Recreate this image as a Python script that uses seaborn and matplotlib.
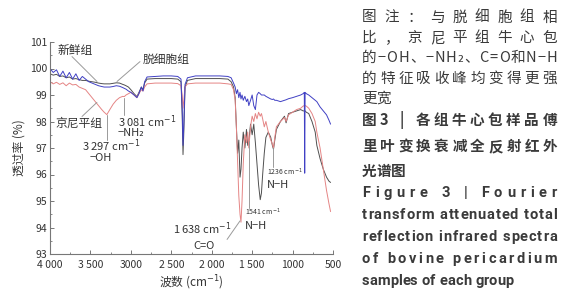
import matplotlib
matplotlib.use('Agg')
import numpy as np
import pandas as pd
import matplotlib.pyplot as plt
from matplotlib.ticker import MultipleLocator, FixedLocator
from matplotlib.transforms import IdentityTransform
import seaborn as sns

# wavenumber grid (cm-1)
wavenumber = ([4000, 3960, 3920, 3880, 3840, 3800, 3760, 3720, 3680, 3640, 3600]
              + [3560, 3520, 3480, 3440, 3400, 3360, 3330, 3297, 3260, 3220, 3180, 3140,
                 3100, 3081, 3060, 3030, 3000, 2960, 2925, 2900, 2870, 2850, 2830, 2800]
              + [2700, 2600, 2500, 2420, 2380, 2365, 2355, 2345, 2330, 2300, 2200, 2100,
                 2000, 1900, 1800]
              + [1760, 1730, 1710, 1695, 1680, 1665, 1650, 1638, 1625, 1610, 1590, 1570,
                 1555, 1541, 1520, 1500, 1480, 1460, 1440, 1420, 1400]
              + [1385, 1370, 1350, 1330, 1300, 1270, 1250, 1236, 1220, 1200, 1150, 1100,
                 1080, 1050, 1000, 950, 900, 870, 855, 850, 845, 830, 800, 760, 720, 700,
                 660, 620, 580, 550, 530])

# 新鲜组 (dark grey)
fresh = ([99.8, 99.75, 99.78, 99.7, 99.72, 99.65, 99.68, 99.6, 99.62, 99.58, 99.55]
         + [99.55, 99.52, 99.5, 99.48, 99.45, 99.43, 99.42, 99.42, 99.42, 99.44, 99.46, 99.45,
            99.4, 99.38, 99.35, 99.3, 99.2, 99.05, 98.94, 99.1, 99.3, 99.2, 99.45, 99.6]
         + [99.62, 99.62, 99.62, 99.6, 99.5, 98.2, 96.75, 97.6, 99.3, 99.55, 99.62, 99.62,
            99.62, 99.62, 99.6]
         + [99.5, 99.3, 98.9, 97.8, 96.8, 97.3, 95.9, 96.2, 97.0, 97.6, 97.0, 97.7,
            97.1, 97.25, 97.9, 97.5, 97.9, 97.2, 96.4, 95.6, 95.05]
         + [95.3, 96.0, 96.8, 97.4, 97.6, 97.4, 97.1, 96.95, 97.3, 97.7, 98.0, 98.2,
            97.95, 98.3, 98.35, 98.4, 98.45, 98.4, 98.4, 98.4, 98.4, 98.35, 98.3, 98.0, 97.6, 97.1,
            96.6, 96.2, 95.9, 95.75, 95.7])

# 脱细胞组 (blue)
decell = ([100.0, 99.85, 99.95, 99.7, 99.9, 99.65, 99.85, 99.6, 99.8, 99.55, 99.7]
          + [99.6, 99.5, 99.45, 99.4, 99.35, 99.32, 99.3, 99.3, 99.3, 99.32, 99.35, 99.33,
             99.28, 99.25, 99.22, 99.15, 99.1, 99.0, 98.9, 99.05, 99.3, 99.15, 99.5, 99.68]
          + [99.7, 99.72, 99.72, 99.7, 99.6, 98.5, 97.1, 97.9, 99.4, 99.65, 99.72, 99.72,
             99.72, 99.72, 99.7]
          + [99.65, 99.45, 99.3, 99.05, 99.2, 98.9, 99.1, 98.85, 99.0, 98.8, 98.95, 98.75,
             98.85, 98.6, 98.8, 99.0, 98.6, 98.45, 99.0, 99.1, 99.05]
          + [99.0, 99.0, 99.0, 98.95, 98.9, 98.85, 98.83, 98.85, 98.8, 98.8, 98.75, 98.8,
             98.82, 98.86, 98.9, 98.95, 99.0, 99.05, 99.1, 96.05, 99.1, 99.05, 99.0, 98.9, 98.8, 98.75,
             98.55, 98.4, 98.25, 98.05, 97.9])

# 京尼平组 (red)
genipin = ([99.5, 99.42, 99.48, 99.4, 99.46, 99.35, 99.45, 99.38, 99.4, 99.3, 99.25]
           + [99.2, 99.05, 98.9, 98.75, 98.6, 98.45, 98.35, 98.26, 98.45, 98.65, 98.8, 98.9,
              98.95, 98.94, 99.0, 99.05, 99.1, 99.0, 98.9, 99.05, 99.2, 99.15, 99.3, 99.42]
           + [99.45, 99.45, 99.45, 99.43, 99.35, 99.0, 98.5, 98.8, 99.3, 99.42, 99.45, 99.45,
              99.45, 99.45, 99.42]
           + [99.4, 99.2, 98.8, 97.8, 96.5, 95.2, 94.5, 94.2, 95.0, 96.4, 97.5, 97.2,
              97.6, 97.0, 97.8, 98.2, 98.0, 98.3, 98.1, 98.35, 98.2]
           + [98.3, 98.1, 97.8, 98.0, 97.6, 97.3, 97.15, 97.0, 97.4, 97.8, 98.0, 98.15,
              98.0, 98.25, 98.35, 98.45, 98.5, 98.58, 98.6, 98.6, 98.6, 98.58, 98.5, 98.3, 98.0, 97.6,
              97.0, 96.2, 95.4, 94.9, 94.6])

group_names = ['新鲜组', '脱细胞组', '京尼平组']
group_colors = ['#505050', '#4040c4', '#e58585']

x_ticks = [4000, 3500, 3000, 2500, 2000, 1500, 1000, 500]
x_tick_labels = ['4 000', '3 500', '3000', '2 500', '2 000', '1 500', '1000', '500']
y_ticks = [93, 94, 95, 96, 97, 98, 99, 100, 101]

note_lines = ['图注：与脱细胞组相', '比，京尼平组牛心包', '的−OH、−NH₂、C=O和N−H',
              '的特征吸收峰均变得更强', '更宽']
title_cn_lines = ['图3 | 各组牛心包样品傅', '里叶变换衰减全反射红外', '光谱图']
title_en_lines = ['Figure 3 | Fourier', 'transform attenuated total',
                  'reflection infrared spectra', 'of bovine pericardium',
                  'samples of each group']

df = pd.DataFrame({
    'wn': wavenumber * 3,
    'T': fresh + decell + genipin,
    'group': [group_names[0]] * len(fresh) + [group_names[1]] * len(decell)
             + [group_names[2]] * len(genipin),
})

sns.set_theme(style='ticks')
cjk = ['Noto Sans CJK SC', 'DejaVu Sans']
plt.rcParams['font.family'] = cjk
plt.rcParams['mathtext.fontset'] = 'dejavusans'
plt.rcParams['axes.unicode_minus'] = False

txt = '#333333'
fig = plt.figure(figsize=(5.74, 3.0), dpi=100)
ax = fig.add_axes([50 / 574, 46 / 300, 283 / 574, 212 / 300])

sns.lineplot(data=df, x='wn', y='T', hue='group',
             hue_order=[group_names[0], group_names[2], group_names[1]],
             palette={g: c for g, c in zip(group_names, group_colors)},
             estimator=None, sort=True, linewidth=0.7, legend=False, ax=ax)

ax.set_xlim(4000, 500)
ax.set_ylim(93, 101)
ax.xaxis.set_major_locator(FixedLocator(x_ticks))
ax.set_xticklabels(x_tick_labels)
ax.xaxis.set_minor_locator(MultipleLocator(250))
ax.set_yticks(y_ticks)
ax.yaxis.set_minor_locator(MultipleLocator(0.5))
sns.despine(ax=ax)
for s in ['left', 'bottom']:
    ax.spines[s].set_color('#777777')
    ax.spines[s].set_linewidth(0.8)
ax.tick_params(which='major', direction='in', length=3, width=0.7, color='#777777',
               labelsize=7.5, labelcolor=txt, pad=2)
ax.tick_params(axis='x', which='major', pad=4)
ax.tick_params(which='minor', direction='in', length=1.5, width=0.6, color='#777777')
ax.set_xlabel('波数 (cm$^{-1}$)', fontsize=8.5, color=txt, labelpad=3)
ax.set_ylabel('透过率 (%)', fontsize=8.5, color=txt, labelpad=3)

# labels and leader lines
lead = dict(color='#9a9a9a', linewidth=0.7)
ax.text(3691, 100.68, '新鲜组', fontsize=8.5, color=txt, ha='center', va='center')
ax.plot([3728, 3419], [100.45, 99.51], **lead)
ax.text(2565, 100.34, '脱细胞组', fontsize=8.5, color=txt, ha='center', va='center')
ax.plot([2887, 3171], [100.26, 99.51], **lead)
ax.text(3641, 97.92, '京尼平组', fontsize=8.5, color=txt, ha='center', va='center')
ax.plot([3604, 3420], [98.19, 98.72], **lead)

ax.text(3159, 98.0, '3 081 cm$^{-1}$', fontsize=8, color=txt, ha='left', va='center')
ax.text(3159, 97.55, '−NH₂', fontsize=8, color=txt, ha='left', va='center')
ax.plot([3081, 3081], [98.9, 98.25], **lead)
ax.text(3604, 97.09, '3 297 cm$^{-1}$', fontsize=8, color=txt, ha='left', va='center')
ax.text(3505, 96.64, '−OH', fontsize=8, color=txt, ha='left', va='center')
ax.plot([3297, 3297], [98.26, 97.3], **lead)

ax.text(2479, 93.96, '1 638 cm$^{-1}$', fontsize=8, color=txt, ha='left', va='center')
ax.text(2231, 93.32, 'C=O', fontsize=8, color=txt, ha='left', va='center')
ax.plot([1810, 1650], [93.55, 94.25], **lead)
ax.text(1589, 94.57, '1541 cm$^{-1}$', fontsize=5, color=txt, ha='left', va='center')
ax.text(1589, 94.04, 'N−H', fontsize=8, color=txt, ha='left', va='center')
ax.plot([1541, 1541], [97.25, 94.75], **lead)
ax.text(1316, 96.08, '1236 cm$^{-1}$', fontsize=5, color=txt, ha='left', va='center')
ax.text(1316, 95.62, 'N−H', fontsize=8, color=txt, ha='left', va='center')
ax.plot([1236, 1236], [97.0, 96.3], **lead)

# caption block on the right, justified like the journal layout
renderer = fig.canvas.get_renderer()
X0, X1 = 362, 557


def put_line(s, y_px, size, weight, family, justify=True):
    dpx = size * fig.dpi / 72
    while True:
        arts, widths = [], []
        for c in s:
            t = fig.text(0, 0, c, fontsize=size, fontweight=weight, family=family,
                         color='#3a3a3a', ha='left', va='center',
                         transform=IdentityTransform())
            w = dpx * 0.28 if c == ' ' else t.get_window_extent(renderer).width
            arts.append(t)
            widths.append(w)
        total = sum(widths)
        if total <= X1 - X0 or not justify:
            break
        for t in arts:
            t.remove()
        size *= (X1 - X0) / total * 0.99
        dpx = size * fig.dpi / 72
    gap = (X1 - X0 - total) / (len(s) - 1) if justify else 0.0
    x = X0
    for t, w in zip(arts, widths):
        t.set_position((x, 300 - y_px))
        x += w + gap


note_y = [17.5, 38, 58, 79, 99]
for i, (s, y) in enumerate(zip(note_lines, note_y)):
    put_line(s, y, 10.5, 'normal', cjk, justify=i < len(note_lines) - 1)
cn_y = [120, 146, 171]
for i, (s, y) in enumerate(zip(title_cn_lines, cn_y)):
    put_line(s, y, 10.5, 'bold', cjk, justify=i < len(title_cn_lines) - 1)
en_y = [193, 215, 237, 259, 281]
for i, (s, y) in enumerate(zip(title_en_lines, en_y)):
    put_line(s, y, 10.5, 'bold', ['Roboto', 'DejaVu Sans'], justify=i < len(title_en_lines) - 1)

fig.savefig('out.png', dpi=100)
